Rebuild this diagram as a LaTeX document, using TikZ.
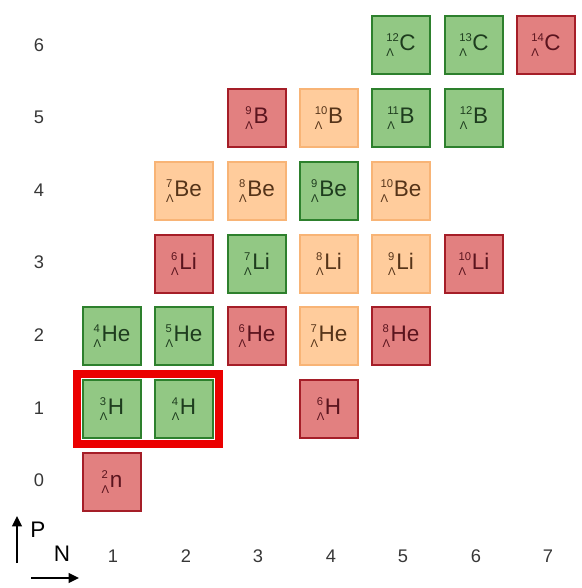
\documentclass[tikz,border=0pt]{standalone}
\usepackage{fontspec}
\setmainfont{Liberation Sans}
\usetikzlibrary{arrows.meta,fit}
\definecolor{stablefill}{RGB}{146,200,132}
\definecolor{stableline}{RGB}{45,128,45}
\definecolor{stabletext}{RGB}{30,60,30}
\definecolor{unboundfill}{RGB}{226,128,128}
\definecolor{unboundline}{RGB}{165,30,40}
\definecolor{unboundtext}{RGB}{90,20,30}
\definecolor{weakfill}{RGB}{255,204,156}
\definecolor{weakline}{RGB}{248,180,118}
\definecolor{weaktext}{RGB}{85,52,25}
\definecolor{axistext}{RGB}{55,55,55}
\definecolor{markred}{RGB}{235,0,0}
\newcommand{\hypnuc}[2]{$\vphantom{\mbox{#2}}^{\mbox{\footnotesize #1}}_{\mbox{\footnotesize Λ}}$#2}

\begin{document}
\begin{tikzpicture}[
  x=0.025cm, y=-0.025cm,
  every node/.style={font=\fontsize{16}{19}\selectfont},
  nuc/.style={line width=1.4pt, minimum width=1.45cm, minimum height=1.45cm, inner sep=0pt},
  stable/.style={nuc, draw=stableline, fill=stablefill, text=stabletext},
  unbound/.style={nuc, draw=unboundline, fill=unboundfill, text=unboundtext},
  weak/.style={nuc, draw=weakline, fill=weakfill, text=weaktext},
  axnum/.style={text=axistext, font=\fontsize{13}{15}\selectfont},
  axarr/.style={-{Triangle[length=2.6mm, width=2.4mm]}, line width=1.4pt, draw=black}
]
\useasboundingbox (0,0) rectangle (582,588);

% row labels (P)
\node[axnum] (p6) at (39,45) {6};
\node[axnum] (p5) at (39,117) {5};
\node[axnum] (p4) at (39,190) {4};
\node[axnum] (p3) at (39,262) {3};
\node[axnum] (p2) at (39,335) {2};
\node[axnum] (p1) at (39,408) {1};
\node[axnum] (p0) at (39,480) {0};

% column labels (N)
\node[axnum] (n1) at (113,556) {1};
\node[axnum] (n2) at (186,556) {2};
\node[axnum] (n3) at (258,556) {3};
\node[axnum] (n4) at (331,556) {4};
\node[axnum] (n5) at (403,556) {5};
\node[axnum] (n6) at (476,556) {6};
\node[axnum] (n7) at (548,556) {7};

% P = 6
\node[stable]  (c12) at (401,45) {\hypnuc{12}{C}};
\node[stable]  (c13) at (474,45) {\hypnuc{13}{C}};
\node[unbound] (c14) at (546,45) {\hypnuc{14}{C}};
% P = 5
\node[unbound] (b9)  at (257,118) {\hypnuc{9}{B}};
\node[weak]    (b10) at (329,118) {\hypnuc{10}{B}};
\node[stable]  (b11) at (401,118) {\hypnuc{11}{B}};
\node[stable]  (b12) at (474,118) {\hypnuc{12}{B}};
% P = 4
\node[weak]    (be7)  at (184,191) {\hypnuc{7}{Be}};
\node[weak]    (be8)  at (257,191) {\hypnuc{8}{Be}};
\node[stable]  (be9)  at (329,191) {\hypnuc{9}{Be}};
\node[weak]    (be10) at (401,191) {\hypnuc{10}{Be}};
% P = 3
\node[unbound] (li6)  at (184,264) {\hypnuc{6}{Li}};
\node[stable]  (li7)  at (257,264) {\hypnuc{7}{Li}};
\node[weak]    (li8)  at (329,264) {\hypnuc{8}{Li}};
\node[weak]    (li9)  at (401,264) {\hypnuc{9}{Li}};
\node[unbound] (li10) at (474,264) {\hypnuc{10}{Li}};
% P = 2
\node[stable]  (he4) at (112,336) {\hypnuc{4}{He}};
\node[stable]  (he5) at (184,336) {\hypnuc{5}{He}};
\node[unbound] (he6) at (257,336) {\hypnuc{6}{He}};
\node[weak]    (he7) at (329,336) {\hypnuc{7}{He}};
\node[unbound] (he8) at (401,336) {\hypnuc{8}{He}};
% P = 1
\node[stable]  (h3) at (112,409) {\hypnuc{3}{H}};
\node[stable]  (h4) at (184,409) {\hypnuc{4}{H}};
\node[unbound] (h6) at (329,409) {\hypnuc{6}{H}};
% P = 0
\node[unbound] (nn2) at (112,482) {\hypnuc{2}{n}};

% highlight
\node[fit=(h3)(h4), draw=markred, line width=6pt, inner sep=0.12cm] (mark) {};

% axes
\coordinate (pfrom) at (17,563);
\coordinate (pto) at (17,516);
\coordinate (nfrom) at (31,578);
\coordinate (nto) at (79,578);
\draw[axarr] (pfrom) -- (pto);
\draw[axarr] (nfrom) -- (nto);
\node (plabel) at (38,530) {P};
\node (nlabel) at (62,554) {N};
\end{tikzpicture}
\end{document}
